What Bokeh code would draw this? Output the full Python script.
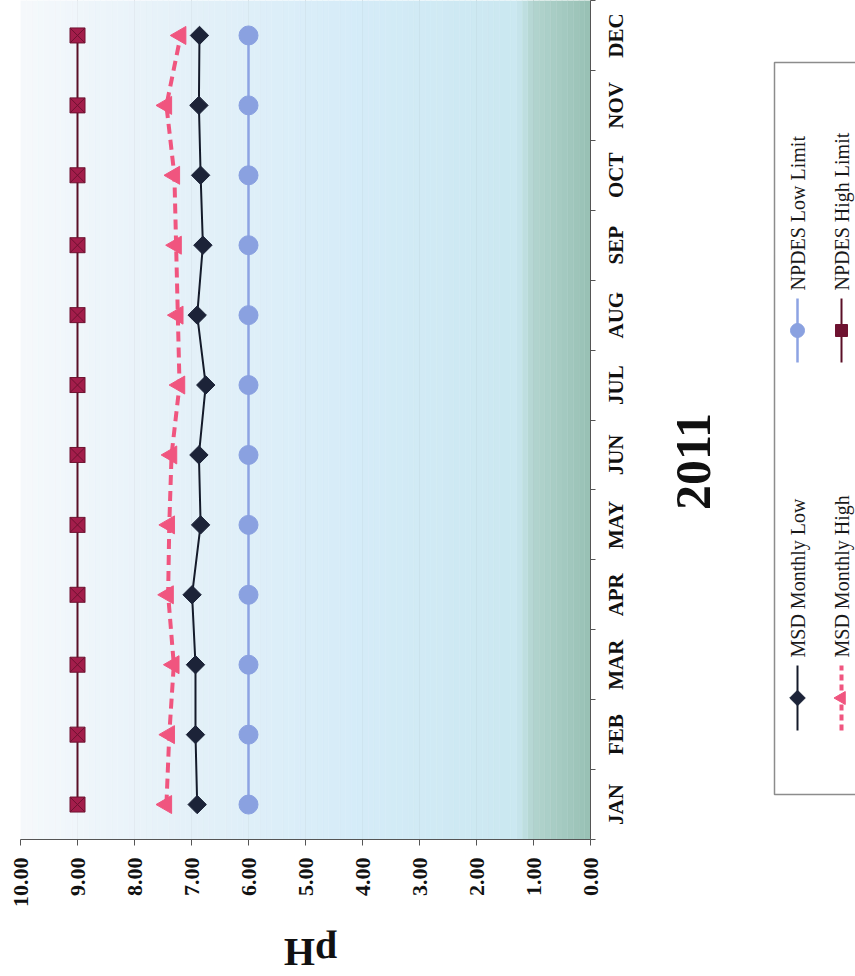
import numpy as np
from bokeh.plotting import figure
from bokeh.layouts import row, column
from bokeh.models import Range1d, FixedTicker, NumeralTickFormatter
from bokeh.core.properties import value
from bokeh.embed import file_html
from bokeh.resources import INLINE

# ---- data -------------------------------------------------------------
months = ["JAN", "FEB", "MAR", "APR", "MAY", "JUN",
          "JUL", "AUG", "SEP", "OCT", "NOV", "DEC"]
month_pos = [1, 2, 3, 4, 5, 6, 7, 8, 9, 10, 11, 12]
month_edges = [0.5, 1.5, 2.5, 3.5, 4.5, 5.5, 6.5, 7.5, 8.5, 9.5, 10.5, 11.5, 12.5]

msd_low = [6.90, 6.93, 6.93, 6.99, 6.84, 6.87, 6.75, 6.90, 6.80, 6.84, 6.87, 6.86]
msd_high = [7.44, 7.39, 7.31, 7.41, 7.39, 7.35, 7.21, 7.24, 7.27, 7.30, 7.44, 7.19]
npdes_low = [6.00, 6.00, 6.00, 6.00, 6.00, 6.00, 6.00, 6.00, 6.00, 6.00, 6.00, 6.00]
npdes_high = [9.00, 9.00, 9.00, 9.00, 9.00, 9.00, 9.00, 9.00, 9.00, 9.00, 9.00, 9.00]

ph_ticks = [0, 1, 2, 3, 4, 5, 6, 7, 8, 9, 10]

SERIF = "Liberation Serif"
W = 855
H = 976
H_TOP = 930       # chart block; the pH title strip sits underneath
W_MAIN = 605
FRAME_H = 839     # plot-area height
BOTTOM = H_TOP - FRAME_H
month_range = Range1d(0.5, 12.5)

# ---- main chart (laid out sideways: pH runs right-to-left) -----------
p = figure(width=W_MAIN, height=H_TOP,
           x_range=Range1d(10, 0), y_range=month_range,
           y_axis_location="right",
           min_border_left=20, min_border_right=W_MAIN - 590,
           min_border_top=0, min_border_bottom=BOTTOM,
           output_backend="svg", toolbar_location=None)
p.outline_line_color = None
p.background_fill_color = "white"
p.border_fill_color = "white"

# plot-area background: soft blue fading to sea green near pH 0
stop_ph = [0.0, 1.0, 1.3, 4.0, 7.0, 10.0]
stop_r = [152, 178, 203, 213, 228, 246]
stop_g = [192, 212, 232, 236, 241, 249]
stop_b = [180, 207, 241, 248, 249, 252]
edges = np.linspace(0, 10, 101)
mids = (edges[:-1] + edges[1:]) / 2
cols = ["#%02x%02x%02x" % (int(np.interp(m, stop_ph, stop_r)),
                           int(np.interp(m, stop_ph, stop_g)),
                           int(np.interp(m, stop_ph, stop_b))) for m in mids]
p.quad(left=edges[:-1], right=edges[1:], bottom=0.5, top=12.5,
       fill_color=cols, line_color=cols, line_width=0.5)

# pH scale
xa = p.xaxis[0]
xa.ticker = FixedTicker(ticks=ph_ticks)
xa.formatter = NumeralTickFormatter(format="0.00")
xa.major_label_orientation = np.pi / 2
xa.major_label_text_font = SERIF
xa.major_label_text_font_style = "bold"
xa.major_label_text_font_size = "22px"
xa.major_label_text_color = "#111111"
xa.major_label_standoff = 12
xa.axis_line_color = "#555555"
xa.major_tick_line_color = "#555555"
xa.major_tick_out = 6
xa.major_tick_in = 0
xa.minor_tick_out = 0

# month axis: line and boundary ticks only, names are drawn beside it
ya = p.yaxis[0]
ya.ticker = FixedTicker(ticks=[], minor_ticks=month_edges)
ya.axis_line_color = "#555555"
ya.major_tick_out = 0
ya.major_tick_in = 0
ya.minor_tick_out = 5
ya.minor_tick_in = 0
ya.minor_tick_line_color = "#555555"
ya.major_label_standoff = 0

p.xgrid.ticker = FixedTicker(ticks=ph_ticks)
p.xgrid.grid_line_color = "#6a6a6a"
p.xgrid.grid_line_width = 1
p.ygrid.grid_line_color = None

# series
p.line(npdes_high, month_pos, line_color="#5a0f26", line_width=2)
p.scatter(npdes_high, month_pos, marker="square_x", size=15,
          fill_color="#a31d4b", line_color="#6e1230", line_width=1)

p.line(npdes_low, month_pos, line_color="#8da3e3", line_width=2.5)
p.scatter(npdes_low, month_pos, marker="circle", size=19,
          fill_color="#8aa1e0", line_color="#8aa1e0")

p.line(msd_low, month_pos, line_color="#141a2a", line_width=2)
p.scatter(msd_low, month_pos, marker="square", angle=np.pi / 4, size=13,
          fill_color="#1c2338", line_color="#1c2338")

p.line(msd_high, month_pos, line_color="#f0557f", line_width=4, line_dash="10 6")
p.scatter(msd_high, month_pos, marker="triangle", angle=np.pi / 2, size=18,
          fill_color="#f0557f", line_color="#f0557f")

# ---- side panel: month names, year title and legend ------------------
s = figure(width=W - W_MAIN, height=H_TOP, x_range=Range1d(W_MAIN, W), y_range=month_range,
           x_axis_type=None, y_axis_type=None,
           min_border_left=0, min_border_right=0,
           min_border_top=0, min_border_bottom=BOTTOM,
           output_backend="svg", toolbar_location=None)
s.extra_y_ranges = {"px": Range1d(H - FRAME_H, H)}
s.outline_line_color = None
s.grid.visible = False
s.background_fill_color = "white"
s.border_fill_color = "white"

s.text(x=[615] * len(months), y=month_pos, text=months, angle=np.pi / 2,
       text_align="center", text_baseline="middle",
       text_font=value(SERIF), text_font_style="bold",
       text_font_size="21px", text_color="#111111")

s.text(x=[693], y=[H - 461], text=["2011"], angle=np.pi / 2,
       text_align="center", text_baseline="middle",
       text_font=value(SERIF), text_font_style="bold",
       text_font_size="50px", text_color="#111111", y_range_name="px")

s.quad(left=774, right=900, bottom=H - 794, top=H - 62,
       fill_color="white", line_color="#8c8c8c", line_width=1.5, y_range_name="px")

legend_items = [
    ("MSD Monthly Low", 797, 665, 730, "#141a2a", "solid", 2),
    ("MSD Monthly High", 841, 665, 730, "#f0557f", "6 4", 4),
    ("NPDES Low Limit", 797, 298, 362, "#8da3e3", "solid", 2.5),
    ("NPDES High Limit", 841, 298, 362, "#5a0f26", "solid", 2),
]
for label, lx, top, bot, color, dash, lw in legend_items:
    s.line([lx, lx], [H - bot, H - top], line_color=color, line_width=lw,
           line_dash=dash, y_range_name="px")
    s.text(x=[lx], y=[H - top + 8], text=[label], angle=np.pi / 2,
           text_align="left", text_baseline="middle",
           text_font=value(SERIF), text_font_size="20px", text_color="#1a1a1a",
           y_range_name="px")

def mid(t, b):
    return H - (t + b) / 2

s.scatter([797], [mid(665, 730)], marker="square", angle=np.pi / 4, size=11,
          fill_color="#1c2338", line_color="#1c2338", y_range_name="px")
s.scatter([841], [mid(665, 730)], marker="triangle", angle=np.pi / 2, size=13,
          fill_color="#f0557f", line_color="#f0557f", y_range_name="px")
s.scatter([797], [mid(298, 362)], marker="circle", size=14,
          fill_color="#8aa1e0", line_color="#8aa1e0", y_range_name="px")
s.scatter([841], [mid(298, 362)], marker="square", size=12,
          fill_color="#6e1230", line_color="#6e1230", y_range_name="px")

# ---- strip underneath: the pH title, upside down ----------------------
t = figure(width=W, height=H - H_TOP, x_range=Range1d(0, W), y_range=Range1d(H_TOP, H),
           x_axis_type=None, y_axis_type=None, min_border=0,
           output_backend="svg", toolbar_location=None)
t.outline_line_color = None
t.grid.visible = False
t.background_fill_color = "white"
t.border_fill_color = "white"
t.text(x=[310], y=[H - 952 + H_TOP], text=["pH"], angle=np.pi,
       text_align="center", text_baseline="middle",
       text_font=value(SERIF), text_font_style="bold",
       text_font_size="40px", text_color="#111111")

layout = column(row(p, s, spacing=0), t, spacing=0)
open("out.html", "w").write(file_html(layout, INLINE))
